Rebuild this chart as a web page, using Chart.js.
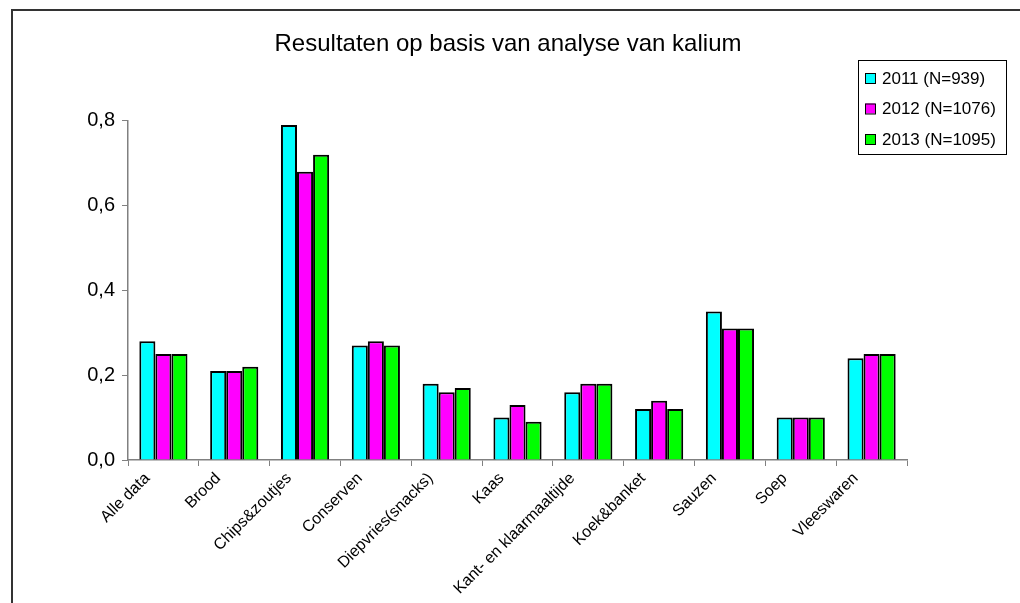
<!DOCTYPE html>
<html>
<head>
<meta charset="utf-8">
<script src="https://cdn.jsdelivr.net/npm/chart.js@4.4.1/dist/chart.umd.min.js"></script>
<style>
  body { margin: 0; background: #fff; overflow: hidden; }
  #frame { position: absolute; left: 11px; top: 9px; width: 1100px; height: 700px; border: 2px solid #333; }
  #wrap { position: absolute; left: 0; top: 0; width: 1020px; height: 603px; }
</style>
</head>
<body>
<div id="frame"></div>
<div id="wrap"><canvas id="chart"></canvas></div>
<script>
// data
const categories = ['Alle data', 'Brood', 'Chips&zoutjes', 'Conserven', 'Diepvries(snacks)', 'Kaas',
  'Kant- en klaarmaaltijde', 'Koek&banket', 'Sauzen', 'Soep', 'Vleeswaren'];
const seriesNames = ['2011 (N=939)', '2012 (N=1076)', '2013 (N=1095)'];
const values2011 = [0.28, 0.21, 0.79, 0.27, 0.18, 0.10, 0.16, 0.12, 0.35, 0.10, 0.24];
const values2012 = [0.25, 0.21, 0.68, 0.28, 0.16, 0.13, 0.18, 0.14, 0.31, 0.10, 0.25];
const values2013 = [0.25, 0.22, 0.72, 0.27, 0.17, 0.09, 0.18, 0.12, 0.31, 0.10, 0.25];
const yTicks = [0, 0.2, 0.4, 0.6, 0.8];
const colors = ['#00FFFF', '#FF00FF', '#00FF00'];

const FONT = 'Liberation Sans, Arial, sans-serif';

// legend drawn in a box at top right, like the original
const boxLegend = {
  id: 'boxLegend',
  afterDraw(chart) {
    const ctx = chart.ctx;
    ctx.save();
    ctx.strokeStyle = '#000';
    ctx.lineWidth = 1;
    ctx.strokeRect(858.5, 60.5, 148, 94);
    ctx.font = '17px ' + FONT;
    ctx.textBaseline = 'middle';
    chart.data.datasets.forEach((ds, i) => {
      const y = 78 + i * 30.5;
      ctx.fillStyle = ds.backgroundColor;
      ctx.fillRect(865, y - 5, 10, 10);
      ctx.strokeStyle = '#000';
      ctx.strokeRect(865.5, y - 4.5, 10, 10);
      ctx.fillStyle = '#000';
      ctx.fillText(ds.label, 882, y + 1);
    });
    ctx.restore();
  }
};

// centre the title over the whole frame instead of the padded layout box
const titleShift = {
  id: 'titleShift',
  afterLayout(chart) {
    const t = chart.titleBlock;
    if (t) { t.left = 0; t.right = 1016; t.width = 1016; }
  }
};

const allValues = [values2011, values2012, values2013];

new Chart(document.getElementById('chart'), {
  type: 'bar',
  data: {
    labels: categories,
    datasets: seriesNames.map((name, i) => ({
      label: name,
      data: allValues[i],
      backgroundColor: colors[i],
      borderColor: '#000',
      borderWidth: 2,
      categoryPercentage: 0.68,
      barPercentage: 1
    }))
  },
  options: {
    responsive: true,
    maintainAspectRatio: false,
    animation: false,
    layout: { padding: { left: 0, right: 113, top: 10, bottom: 0 } },
    plugins: {
      legend: { display: false },
      tooltip: { enabled: false },
      title: {
        display: true,
        text: 'Resultaten op basis van analyse van kalium',
        color: '#000',
        font: { family: FONT, size: 24, weight: 'normal' },
        padding: { top: 20, bottom: 62 }
      }
    },
    scales: {
      x: {
        afterFit(scale) { scale.height = 143; },
        grid: { display: true, drawOnChartArea: false, drawTicks: true, tickLength: 6, color: '#808080', offset: true },
        border: { display: true, color: '#808080', width: 1.5 },
        ticks: {
          color: '#000',
          font: { family: FONT, size: 16 },
          maxRotation: 45,
          minRotation: 45,
          autoSkip: false,
          padding: 3,
          labelOffset: -16
        }
      },
      y: {
        min: 0,
        max: 0.8,
        afterFit(scale) { scale.width = 128; },
        afterBuildTicks(scale) { scale.ticks = yTicks.map(v => ({ value: v })); },
        grid: { display: true, drawOnChartArea: false, drawTicks: true, tickLength: 6, color: '#808080' },
        border: { display: true, color: '#808080', width: 1.5 },
        ticks: {
          color: '#000',
          font: { family: FONT, size: 20 },
          padding: 7,
          callback: v => v.toFixed(1).replace('.', ',')
        }
      }
    }
  },
  plugins: [boxLegend, titleShift]
});
</script>
</body>
</html>
